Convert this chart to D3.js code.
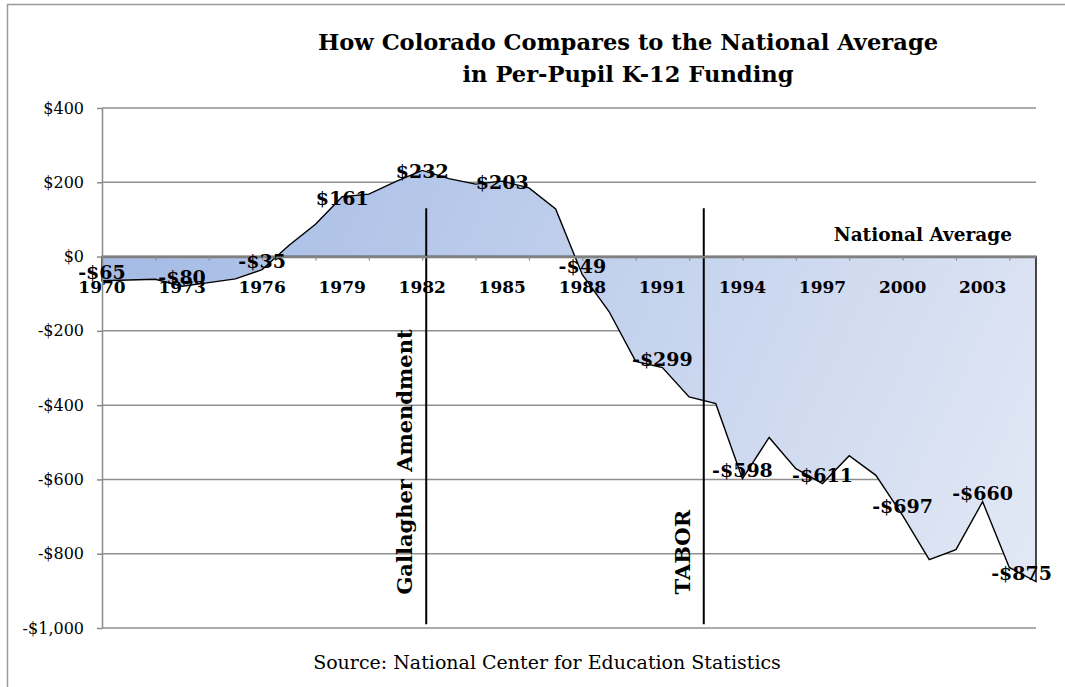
<!DOCTYPE html>
<html>
<head>
<meta charset="utf-8">
<script src="https://cdn.jsdelivr.net/npm/d3@7"></script>
<style>
  html, body { margin: 0; padding: 0; background: #fff; }
  svg { display: block; }
  text { font-family: "DejaVu Serif", "Liberation Serif", serif; fill: #000; }
</style>
</head>
<body>
<svg id="chart" width="1065" height="687"></svg>
<script>
// Colorado per-pupil K-12 funding minus the national average, in dollars
const years = [1970, 1971, 1972, 1973, 1974, 1975, 1976, 1977, 1978, 1979,
               1980, 1981, 1982, 1983, 1984, 1985, 1986, 1987, 1988, 1989,
               1990, 1991, 1992, 1993, 1994, 1995, 1996, 1997, 1998, 1999,
               2000, 2001, 2002, 2003, 2004, 2005];
const gaps  = [-65, -63, -61, -80, -70, -60, -35, 30, 87, 161,
               168, 202, 232, 210, 195, 203, 185, 128, -49, -148,
               -282, -299, -378, -396, -598, -487, -571, -611, -536, -589,
               -697, -816, -789, -660, -837, -875];

// years whose value is printed next to the line
const labelledYears = [1970, 1973, 1976, 1979, 1982, 1985, 1988, 1991, 1994, 1997, 2000, 2003, 2005];
// category axis: tick marks every two years, labels every three
const tickYears  = [1970, 1972, 1974, 1976, 1978, 1980, 1982, 1984, 1986, 1988,
                    1990, 1992, 1994, 1996, 1998, 2000, 2002, 2004];
const axisLabelYears = [1970, 1973, 1976, 1979, 1982, 1985, 1988, 1991, 1994, 1997, 2000, 2003];
const yTicks = [400, 200, 0, -200, -400, -600, -800, -1000];

// policy events marked with vertical rules
const eventNames = ["Gallagher Amendment", "TABOR"];
const eventYears = [1982.15, 1992.55];
const eventSpan  = [130, -990];

const titleLines = ["How Colorado Compares to the National Average", "in Per-Pupil K-12 Funding"];
const baselineLabel = "National Average";
const sourceNote = "Source: National Center for Education Statistics";

const svg = d3.select("#chart");
const plot = { left: 102, right: 1036, top: 108, bottom: 628 };

const x = d3.scaleLinear().domain([1970, 2005]).range([plot.left, plot.right]);
const y = d3.scaleLinear().domain([-1000, 400]).range([plot.bottom, plot.top]);
const money = v => (v < 0 ? "-" : "") + "$" + d3.format(",")(Math.abs(v));

// outer chart frame
svg.append("path")
  .attr("d", "M7.5,700V4.5H1075")
  .attr("fill", "none").attr("stroke", "#9a9a9a").attr("stroke-width", 1.5);

// title
svg.append("text")
  .attr("x", 628).attr("text-anchor", "middle")
  .attr("font-size", 22.6).attr("font-weight", "bold")
  .selectAll("tspan").data(titleLines).join("tspan")
  .attr("x", 628).attr("y", (d, i) => 50 + i * 32)
  .text(d => d);

// horizontal gridlines
svg.append("g").selectAll("line").data(yTicks.filter(v => v !== 0)).join("line")
  .attr("x1", plot.left).attr("x2", plot.right)
  .attr("y1", d => y(d)).attr("y2", d => y(d))
  .attr("stroke", "#8f8f8f").attr("stroke-width", 1.5);

// shaded gap between Colorado and the national average
const defs = svg.append("defs");
const grad = defs.append("linearGradient").attr("id", "gapFill")
  .attr("gradientUnits", "userSpaceOnUse")
  .attr("x1", plot.left).attr("y1", 170).attr("x2", plot.right).attr("y2", 600);
grad.append("stop").attr("offset", 0).attr("stop-color", "#a2b9e4");
grad.append("stop").attr("offset", 1).attr("stop-color", "#e3e9f5");

const series = years.map((yr, i) => ({ year: yr, value: gaps[i] }));
const area = d3.area().x(d => x(d.year)).y0(y(0)).y1(d => y(d.value));
svg.append("path").datum(series)
  .attr("d", area)
  .attr("fill", "url(#gapFill)")
  .attr("stroke", "#000").attr("stroke-width", 1.4).attr("stroke-linejoin", "miter");

// event rules and their labels
const ev = svg.append("g");
eventNames.forEach((name, i) => {
  const ex = x(eventYears[i]);
  ev.append("line")
    .attr("x1", ex).attr("x2", ex)
    .attr("y1", y(eventSpan[0])).attr("y2", y(eventSpan[1]))
    .attr("stroke", "#000").attr("stroke-width", 2);
  ev.append("text")
    .attr("transform", `translate(${ex - 14},${y(-910)}) rotate(-90)`)
    .attr("font-size", 21).attr("font-weight", "bold")
    .text(name);
});

// value axis
const yAxis = svg.append("g")
  .attr("transform", `translate(${plot.left},0)`)
  .call(d3.axisLeft(y).tickValues(yTicks).tickFormat(money).tickSize(5).tickSizeOuter(0).tickPadding(13));
yAxis.select(".domain").attr("stroke", "#8a8a8a").attr("stroke-width", 1.5);
yAxis.selectAll(".tick line").attr("stroke", "#8a8a8a").attr("stroke-width", 1.5);
yAxis.selectAll(".tick text")
  .attr("font-family", "DejaVu Serif").attr("font-size", 16).attr("fill", "#000");

// category axis on the national-average line
const xAxis = svg.append("g")
  .attr("transform", `translate(0,${y(0)})`)
  .call(d3.axisBottom(x).tickValues(tickYears).tickFormat("").tickSize(4).tickSizeOuter(0));
xAxis.select(".domain").attr("stroke", "#808080").attr("stroke-width", 2.5);
xAxis.selectAll(".tick line").attr("stroke", "#8a8a8a").attr("stroke-width", 1.2);

svg.append("g").selectAll("text").data(axisLabelYears).join("text")
  .attr("x", d => x(d)).attr("y", 293)
  .attr("text-anchor", "middle")
  .attr("font-size", 17).attr("font-weight", "bold")
  .text(d => d);

svg.append("text")
  .attr("x", 1012).attr("y", 241).attr("text-anchor", "end")
  .attr("font-size", 18.5).attr("font-weight", "bold")
  .text(baselineLabel);

// value labels: shortfalls sit just above their point, surpluses on it
const labelRight = plot.right + 16;
svg.append("g").selectAll("text")
  .data(series.filter(d => labelledYears.includes(d.year))).join("text")
  .attr("text-anchor", "middle")
  .attr("font-size", 19).attr("font-weight", "bold")
  .attr("y", d => y(d.value) + (d.value < 0 ? -2 : 8))
  .text(d => money(d.value))
  .attr("x", function (d) {
    const half = this.getComputedTextLength() / 2;
    return Math.min(x(d.year), labelRight - half);
  });

// source note
svg.append("text")
  .attr("x", 547).attr("y", 669).attr("text-anchor", "middle")
  .attr("font-size", 19)
  .text(sourceNote);
</script>
</body>
</html>
